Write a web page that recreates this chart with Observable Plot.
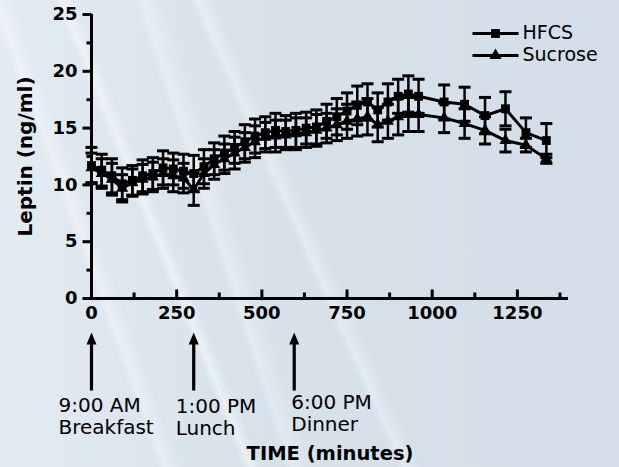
<!DOCTYPE html>
<html>
<head>
<meta charset="utf-8">
<script src="https://cdn.jsdelivr.net/npm/d3@7"></script>
<script src="https://cdn.jsdelivr.net/npm/@observablehq/plot@0.6"></script>
<style>
  html, body { margin: 0; padding: 0; }
  body {
    width: 619px; height: 467px; overflow: hidden;
    background:
      linear-gradient(70deg, transparent 20%, rgba(255,255,255,0.35) 21%, transparent 23%),
      linear-gradient(68deg, transparent 30%, rgba(255,255,255,0.45) 31%, transparent 32.5%),
      linear-gradient(72deg, transparent 37%, rgba(255,255,255,0.3) 38%, transparent 41%),
      linear-gradient(66deg, transparent 48%, rgba(255,255,255,0.35) 49%, transparent 51%),
      linear-gradient(90deg, #e3ebf2 0%, #d6e1ea 45%, #d3dee8 100%);
    font-family: "DejaVu Sans", sans-serif;
  }
  #chart svg { display: block; }
</style>
</head>
<body>
<div id="chart"></div>
<script>
// ---- data ----
const times = [0,30,60,90,120,150,180,210,240,270,300,330,360,390,420,450,480,510,540,570,600,630,660,690,720,750,780,810,840,870,900,930,960,1035,1095,1155,1215,1275,1335];
const hfcsValues = [11.7,11.3,10.8,10.1,10.4,10.8,11.0,11.5,11.4,11.2,11.0,11.6,12.3,12.8,13.3,13.8,14.3,14.6,14.8,14.7,14.8,15.0,15.1,15.6,16.0,16.5,17.0,17.3,16.6,17.3,17.8,18.0,17.8,17.3,17.1,16.1,16.7,14.6,13.9];
const hfcsErrors = [1.6,1.4,1.5,1.4,1.3,1.4,1.4,1.5,1.4,1.5,1.6,1.5,1.4,1.5,1.4,1.5,1.5,1.4,1.5,1.4,1.5,1.4,1.5,1.5,1.6,1.6,1.7,1.6,1.5,1.6,1.5,1.6,1.5,1.5,1.5,1.6,1.5,1.3,1.5];
const sucroseValues = [11.5,11.0,10.5,9.7,10.2,10.5,10.7,11.0,10.8,10.6,9.6,11.0,11.8,12.3,12.8,13.3,13.8,14.2,14.3,14.4,14.5,14.6,14.8,15.0,15.3,15.6,15.8,16.0,15.3,15.6,16.0,16.2,16.2,15.9,15.4,14.8,13.9,13.5,12.3];
const sucroseErrors = [1.3,1.3,1.4,1.2,1.2,1.3,1.3,1.3,1.4,1.3,1.4,1.3,1.3,1.3,1.4,1.3,1.4,1.3,1.4,1.3,1.4,1.3,1.4,1.3,1.4,1.5,1.5,1.6,1.5,1.5,1.6,1.5,1.5,1.3,1.3,1.2,1.0,0.6,0.4];

const xTicks = [0,250,500,750,1000,1250];
const xMinorTicks = [125,375,625,875,1125,1375];
const yTicks = [0,5,10,15,20,25];
const yMinorTicks = [2.5,7.5,12.5,17.5,22.5];

const seriesNames = ["HFCS","Sucrose"];
const mealTimes = [0,300,595];
const mealClock = ["9:00 AM","1:00 PM","6:00 PM"];
const mealNames = ["Breakfast","Lunch","Dinner"];

const yLabel = "Leptin (ng/ml)";
const xLabel = "TIME (minutes)";

// ---- build tables ----
const hfcs = times.map((t,i)=>({t, v:hfcsValues[i], e:hfcsErrors[i]}));
const sucrose = times.map((t,i)=>({t, v:sucroseValues[i], e:sucroseErrors[i]}));
const meals = mealTimes.map((t,i)=>({t, clock: mealClock[i], name: mealNames[i]}));

// ---- custom symbols ----
const rad = s => Math.sqrt(s/Math.PI);
const hCap = { draw(ctx, size){ const r = rad(size); ctx.moveTo(-r,0); ctx.lineTo(r,0); } };
const upTick = { draw(ctx, size){ const r = rad(size); ctx.moveTo(0,0); ctx.lineTo(0,-r); } };
const leftTick = { draw(ctx, size){ const r = rad(size); ctx.moveTo(0,0); ctx.lineTo(-r,0); } };
const legendLine = { draw(ctx, size){ const r = rad(size); ctx.moveTo(-r,0); ctx.lineTo(r,0); } };
// arrow pointing up, drawn below the x axis
const upArrow = { draw(ctx){
  ctx.moveTo(0,34); ctx.lineTo(5,46); ctx.lineTo(1.6,46); ctx.lineTo(1.6,92);
  ctx.lineTo(-1.6,92); ctx.lineTo(-1.6,46); ctx.lineTo(-5,46); ctx.closePath();
} };

function errorMarks(data){
  return [
    Plot.ruleX(data, {x:"t", y1:d=>d.v-d.e, y2:d=>d.v+d.e, stroke:"black", strokeWidth:2.5}),
    Plot.dot(data, {x:"t", y:d=>d.v+d.e, symbol:hCap, r:6, stroke:"black", strokeWidth:3, fill:"none"}),
    Plot.dot(data, {x:"t", y:d=>d.v-d.e, symbol:hCap, r:6, stroke:"black", strokeWidth:3, fill:"none"})
  ];
}

const annotationMarks = [];
const textDx = [-33,-18,-3];
const textDy = [117,118,114];
meals.forEach((m,i)=>{
  annotationMarks.push(
    Plot.dot([m], {x:"t", frameAnchor:"bottom", symbol:upArrow, fill:"black", stroke:"none"}),
    Plot.text([m], {x:"t", frameAnchor:"bottom", lineAnchor:"middle", text:d=>d.clock+"\n"+d.name, textAnchor:"start",
      dx:textDx[i], dy:textDy[i], lineHeight:1.1, fontSize:20, fill:"black"})
  );
});

const chart = Plot.plot({
  width: 619,
  height: 467,
  marginLeft: 91,
  marginRight: 51,
  marginTop: 14,
  marginBottom: 169,
  style: {background:"transparent", fontFamily:"DejaVu Sans, sans-serif", color:"black", overflow:"visible"},
  x: {domain:[0,1400]},
  y: {domain:[0,25]},
  marks: [
    // axes
    Plot.axisY({ticks:yTicks, tickSize:0, tickPadding:14, fontSize:18, fontWeight:"bold", label:null}),
    Plot.axisX({ticks:xTicks, tickFormat:"d", tickSize:0, tickPadding:8, fontSize:18, fontWeight:"bold", label:null}),
    Plot.ruleX([0], {stroke:"black", strokeWidth:3}),
    Plot.ruleY([0], {stroke:"black", strokeWidth:3}),
    Plot.dot(yTicks, {x:()=>0, y:d=>d, symbol:leftTick, r:9, stroke:"black", strokeWidth:3}),
    Plot.dot(yMinorTicks, {x:()=>0, y:d=>d, symbol:leftTick, r:5, stroke:"black", strokeWidth:3}),
    Plot.dot(xTicks, {x:d=>d, y:()=>0, symbol:upTick, r:9, stroke:"black", strokeWidth:3}),
    Plot.dot(xMinorTicks, {x:d=>d, y:()=>0, symbol:upTick, r:6, stroke:"black", strokeWidth:3}),
    Plot.text([yLabel], {frameAnchor:"left", textAnchor:"middle", lineAnchor:"middle", rotate:-90, dx:-66, fontSize:20, fontWeight:"bold", fill:"black"}),
    Plot.text([xLabel], {frameAnchor:"bottom", lineAnchor:"middle", dy:155, fontSize:19.5, fontWeight:"bold", fill:"black"}),
    // data
    ...errorMarks(hfcs),
    ...errorMarks(sucrose),
    Plot.line(hfcs, {x:"t", y:"v", stroke:"black", strokeWidth:3}),
    Plot.line(sucrose, {x:"t", y:"v", stroke:"black", strokeWidth:3}),
    Plot.dot(hfcs, {x:"t", y:"v", symbol:"square", r:5, fill:"black", stroke:"none"}),
    Plot.dot(sucrose, {x:"t", y:"v", symbol:"triangle", r:4.5, fill:"black", stroke:"none"}),
    // legend
    Plot.dot([seriesNames[0]], {frameAnchor:"top-right", dx:-73, dy:19, symbol:legendLine, r:23, stroke:"black", strokeWidth:3}),
    Plot.dot([seriesNames[0]], {frameAnchor:"top-right", dx:-73, dy:19, symbol:"square", r:5, fill:"black", stroke:"none"}),
    Plot.text([seriesNames[0]], {frameAnchor:"top-right", dx:-46, dy:18, textAnchor:"start", lineAnchor:"middle", fontSize:19, fill:"black"}),
    Plot.dot([seriesNames[1]], {frameAnchor:"top-right", dx:-73, dy:41, symbol:legendLine, r:23, stroke:"black", strokeWidth:3}),
    Plot.dot([seriesNames[1]], {frameAnchor:"top-right", dx:-73, dy:41, symbol:"triangle", r:4.5, fill:"black", stroke:"none"}),
    Plot.text([seriesNames[1]], {frameAnchor:"top-right", dx:-46, dy:40, textAnchor:"start", lineAnchor:"middle", fontSize:19, fill:"black"}),
    // meal annotations
    ...annotationMarks
  ]
});
document.getElementById("chart").appendChild(chart);
</script>
</body>
</html>
